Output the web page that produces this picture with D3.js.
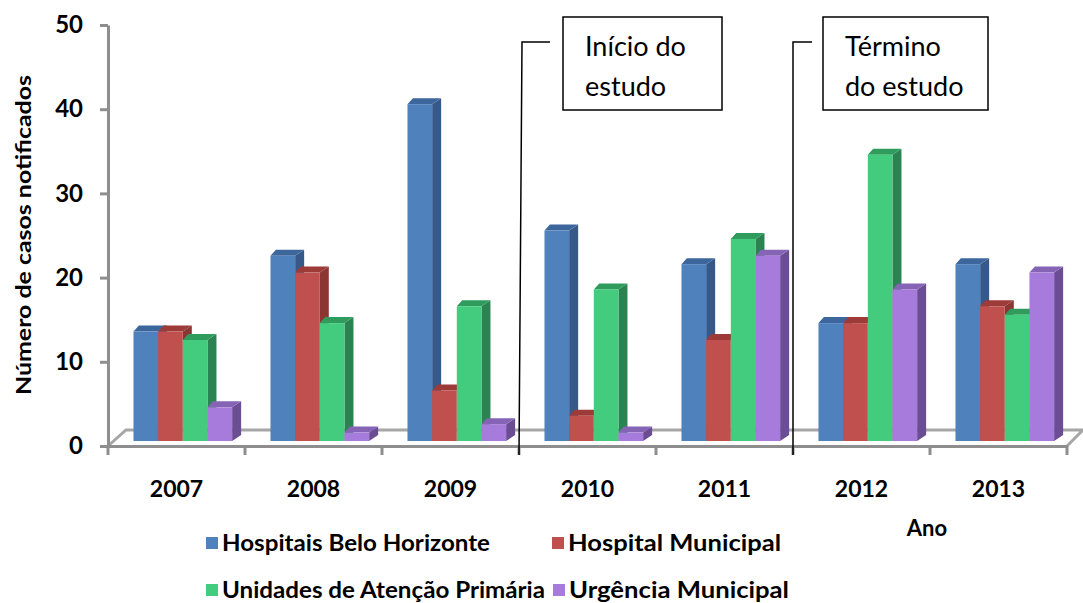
<!DOCTYPE html>
<html>
<head>
<meta charset="utf-8">
<script src="https://cdn.jsdelivr.net/npm/d3@7"></script>
<style>
  body { margin: 0; background: #fff; }
  svg text { font-family: Lato, "Open Sans", sans-serif; }
</style>
</head>
<body>
<div id="chart"></div>
<script>
// data
const years = ['2007', '2008', '2009', '2010', '2011', '2012', '2013']
const seriesNames = ['Hospitais Belo Horizonte', 'Hospital Municipal', 'Unidades de Atenção Primária', 'Urgência Municipal']
const hospitaisBH = [13, 22, 40, 25, 21, 14, 21]
const hospitalMunicipal = [13, 20, 6, 3, 12, 14, 16]
const unidadesAtencao = [12, 14, 16, 18, 24, 34, 15]
const urgenciaMunicipal = [4, 1, 2, 1, 22, 18, 20]
const yTicks = [0, 10, 20, 30, 40, 50]
const callouts = [
    { after: '2009', lines: ['Início do', 'estudo'] },
    { after: '2011', lines: ['Término', 'do estudo'] }
]

const allSeries = [hospitaisBH, hospitalMunicipal, unidadesAtencao, urgenciaMunicipal]

// colours: front, top, side
const colors = [
    { front: '#4f81bd', top: '#3d679c', side: '#37598a' },
    { front: '#c0504d', top: '#9c3b38', side: '#8c3634' },
    { front: '#43cc7e', top: '#2f9b5c', side: '#2a8350' },
    { front: '#a77bdb', top: '#8664b5', side: '#6b4d93' }
]

const W = 1083, H = 603
const svg = d3.select('#chart').append('svg')
    .attr('width', W).attr('height', H)

// scales
const x0 = d3.scaleBand().domain(years).range([108, 1067])
const y = d3.scaleLinear().domain([0, 50]).range([446, 25])
const depthX = 9, depthY = 6      // 3D extrusion of a bar
const lift = 5                    // bar front face sits a bit behind the axis
const groupW = x0.bandwidth() * 0.72
const groupOff = x0.bandwidth() * 0.186
const x1 = d3.scaleBand().domain(d3.range(seriesNames.length)).range([0, groupW])

const grey = '#8e8e8e'

// floor of the 3D plot
const floorBackY = y(0) - 16
svg.append('path')
    .attr('d', `M${x0.range()[0]},${y(0)} L${x0.range()[0] + 18},${floorBackY} L${x0.range()[1] + 16},${floorBackY} L${x0.range()[1]},${y(0)}`)
    .attr('fill', 'none').attr('stroke', '#a6a6a6').attr('stroke-width', 3)

// bars
years.forEach((yr, i) => {
    allSeries.forEach((vals, s) => {
        const v = vals[i]
        const xl = x0(yr) + groupOff + x1(s)
        const xr = xl + x1.bandwidth()
        const base = y(0) - lift
        const top = y(v) - lift
        const c = colors[s]
        const g = svg.append('g')
        g.append('path')
            .attr('d', `M${xr},${base} L${xr + depthX},${base - depthY} L${xr + depthX},${top - depthY} L${xr},${top} Z`)
            .attr('fill', c.side)
        g.append('path')
            .attr('d', `M${xl},${top} L${xl + depthX * 0.6},${top - depthY} L${xr + depthX},${top - depthY} L${xr},${top} Z`)
            .attr('fill', c.top)
        g.append('rect')
            .attr('x', xl).attr('y', top)
            .attr('width', x1.bandwidth()).attr('height', base - top)
            .attr('fill', c.front)
    })
})

// front edge of the floor / x axis
const xAxis = svg.append('g')
    .attr('transform', `translate(0,${y(0)})`)
    .call(d3.axisBottom(x0).tickSize(0).tickPadding(35))
xAxis.select('.domain').attr('stroke', grey).attr('stroke-width', 3)
xAxis.selectAll('text')
    .attr('font-size', 23).attr('font-weight', 'bold').attr('fill', '#000')
    .attr('font-family', 'Lato, sans-serif')
// category boundary ticks
svg.append('g').selectAll('line')
    .data(years.concat(['end']))
    .join('line')
    .attr('x1', (d, i) => i < years.length ? x0(d) : x0.range()[1])
    .attr('x2', (d, i) => i < years.length ? x0(d) : x0.range()[1])
    .attr('y1', y(0)).attr('y2', y(0) + 9)
    .attr('stroke', grey).attr('stroke-width', 3)

// y axis
const yAxis = svg.append('g')
    .attr('transform', `translate(${x0.range()[0]},0)`)
    .call(d3.axisLeft(y).tickValues(yTicks).tickSize(8).tickPadding(17).tickSizeOuter(0))
yAxis.select('.domain').attr('stroke', grey).attr('stroke-width', 3)
yAxis.selectAll('.tick line').attr('stroke', grey).attr('stroke-width', 3)
yAxis.selectAll('text')
    .attr('font-size', 24).attr('font-weight', 'bold').attr('fill', '#000')
    .attr('font-family', 'Lato, sans-serif')

// axis titles
svg.append('text')
    .attr('transform', `translate(31,235) rotate(-90)`)
    .attr('text-anchor', 'middle')
    .attr('font-size', 21).attr('font-weight', 'bold')
    .attr('textLength', 320).attr('lengthAdjust', 'spacingAndGlyphs')
    .text('Número de casos notificados')

svg.append('text')
    .attr('x', 927).attr('y', 536)
    .attr('text-anchor', 'middle')
    .attr('font-size', 22).attr('font-weight', 'bold')
    .text('Ano')

// legend
const legendPos = [[206, 543], [552, 543], [206, 590], [553, 590]]
const legendLen = [268, 213, 323, 220]
const legend = svg.append('g').selectAll('g')
    .data(seriesNames)
    .join('g')
    .attr('transform', (d, i) => `translate(${legendPos[i][0]},${legendPos[i][1]})`)
legend.append('rect')
    .attr('x', 0).attr('y', -6).attr('width', 12).attr('height', 12)
    .attr('fill', (d, i) => colors[i].front)
legend.append('text')
    .attr('x', 16).attr('y', 8)
    .attr('font-size', 22).attr('font-weight', 'bold')
    .attr('textLength', (d, i) => legendLen[i]).attr('lengthAdjust', 'spacingAndGlyphs')
    .text(d => d)

// study start / end callouts
callouts.forEach((c, k) => {
    const lx = x0(c.after) + x0.bandwidth()
    const bx = lx + (k === 0 ? 44 : 30)
    const hook = k === 0 ? 28 : 19
    const bw = k === 0 ? 159 : 165
    const g = svg.append('g')
    g.append('path')
        .attr('d', `M${lx + hook + (k === 0 ? 3 : 0)},42 L${lx + (k === 0 ? 3 : 0)},42 L${lx},${y(0) + 9}`)
        .attr('fill', 'none').attr('stroke', '#000').attr('stroke-width', 1.5)
    g.append('rect')
        .attr('x', bx).attr('y', 17).attr('width', bw).attr('height', 93)
        .attr('fill', '#fff').attr('stroke', '#000').attr('stroke-width', 1.5)
    g.selectAll('text')
        .data(c.lines)
        .join('text')
        .attr('x', bx + 22).attr('y', (d, i) => 56 + i * 40)
        .attr('font-size', 27)
        .text(d => d)
})
</script>
</body>
</html>
